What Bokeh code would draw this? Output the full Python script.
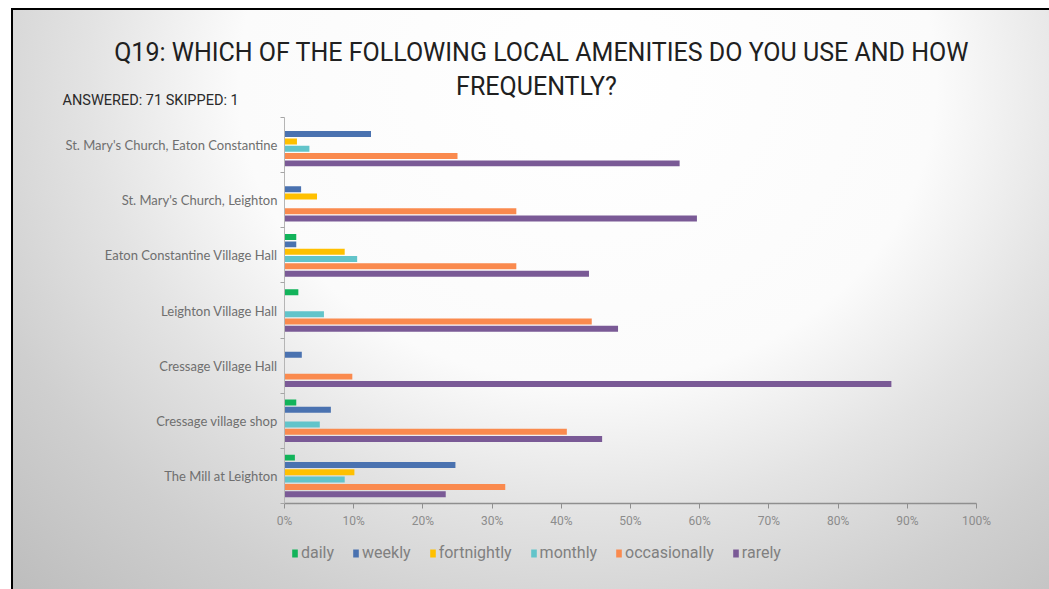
from bokeh.plotting import figure
from bokeh.layouts import column
from bokeh.models import (Range1d, FixedTicker, NumeralTickFormatter, Label,
                          Legend, LegendItem, ColumnDataSource)
from bokeh.transform import dodge
from bokeh.embed import file_html
from bokeh.resources import INLINE

# ---------------- data (percent of respondents) ----------------
categories = [
    "St. Mary's Church, Eaton Constantine",
    "St. Mary's Church, Leighton",
    "Eaton Constantine Village Hall",
    "Leighton Village Hall",
    "Cressage Village Hall",
    "Cressage village shop",
    "The Mill at Leighton",
]
series = ["daily", "weekly", "fortnightly", "monthly", "occasionally", "rarely"]
daily = [0.0, 0.0, 1.7, 2.0, 0.0, 1.7, 1.5]
weekly = [12.5, 2.4, 1.7, 0.0, 2.5, 6.7, 24.7]
fortnightly = [1.8, 4.7, 8.7, 0.0, 0.0, 0.0, 10.1]
monthly = [3.6, 0.0, 10.5, 5.7, 0.0, 5.1, 8.7]
occasionally = [25.0, 33.5, 33.5, 44.4, 9.8, 40.8, 31.9]
rarely = [57.1, 59.6, 44.0, 48.2, 87.7, 45.9, 23.3]
x_ticks = [0.0, 0.1, 0.2, 0.3, 0.4, 0.5, 0.6, 0.7, 0.8, 0.9, 1.0]

colors = ["#12b35a", "#4a72b0", "#ffc000", "#62c4ca", "#fa8a4e", "#7a5a96"]
title_1 = "Q19: WHICH OF THE FOLLOWING LOCAL AMENITIES DO YOU USE AND HOW"
title_2 = "FREQUENTLY?"
subtitle = "ANSWERED: 71 SKIPPED: 1"

W = 1049
TOP_H, MAIN_H, BOT_H = 117, 416, 56


def bare(fig):
    fig.background_fill_color = None
    fig.border_fill_color = None
    fig.outline_line_color = None
    fig.frame_align = False
    return fig


# ---------------- title strip ----------------
top = bare(figure(width=W, height=TOP_H, x_range=Range1d(0, W), y_range=Range1d(TOP_H, 0),
                  x_axis_type=None, y_axis_type=None, title=None, min_border=0,
                  output_backend="svg", toolbar_location=None))
top.add_layout(Label(x=541, y=52, text=title_1, text_align="center", text_baseline="middle",
                     text_font="Roboto", text_font_size="25px", text_color="#202020"))
top.add_layout(Label(x=536, y=86, text=title_2, text_align="center", text_baseline="middle",
                     text_font="Roboto", text_font_size="25px", text_color="#202020"))
top.add_layout(Label(x=62, y=100, text=subtitle, text_align="left", text_baseline="middle",
                     text_font="Roboto", text_font_size="14.5px", text_color="#2a2a2a"))

# ---------------- main bar chart ----------------
n = len(categories)
ypos = [n - 0.5 - i for i in range(n)]
values = [daily, weekly, fortnightly, monthly, occasionally, rarely]
data = dict(y=ypos)
for s, v in zip(series, values):
    data[s] = [x / 100.0 for x in v]
src = ColumnDataSource(data)

p = bare(figure(width=W, height=MAIN_H, x_range=Range1d(0, 1), y_range=Range1d(0, n),
                output_backend="svg", toolbar_location=None, title=None,
                min_border_left=284, min_border_right=73,
                min_border_top=0, min_border_bottom=30))

slot = 0.1327
bar_h = 0.108
for j, s in enumerate(series):
    p.hbar(y=dodge("y", (2.5 - j) * slot), left=0, right=s, height=bar_h,
           source=src, fill_color=colors[j], line_color=None)

p.xgrid.visible = False
p.ygrid.visible = False

xa = p.xaxis[0]
xa.ticker = FixedTicker(ticks=x_ticks)
xa.formatter = NumeralTickFormatter(format="0%")
xa.axis_line_color = "#8f8f8f"
xa.axis_line_width = 1.5
xa.major_tick_line_color = "#8f8f8f"
xa.major_tick_in = 0
xa.major_tick_out = 5
xa.minor_tick_out = 0
xa.minor_tick_in = 0
xa.major_label_standoff = 5
xa.major_label_text_font = "Roboto"
xa.major_label_text_font_size = "12px"
xa.major_label_text_color = "#8c8c8c"

ya = p.yaxis[0]
ya.ticker = FixedTicker(ticks=ypos, minor_ticks=list(range(n + 1)))
ya.major_label_overrides = {y: c for y, c in zip(ypos, categories)}
ya.axis_line_color = "#b5b5b5"
ya.major_tick_in = 0
ya.major_tick_out = 0
ya.minor_tick_in = 0
ya.minor_tick_out = 4
ya.minor_tick_line_color = "#a5a5a5"
ya.major_label_standoff = 3
ya.major_label_text_font = "Lato"
ya.major_label_text_font_size = "13px"
ya.major_label_text_color = "#6f6f6f"

# ---------------- legend strip (same series as zero-size bars) ----------------
bot = bare(figure(width=W, height=BOT_H, x_range=Range1d(0, 1), y_range=Range1d(0, n),
                  x_axis_type=None, y_axis_type=None, title=None, min_border=0,
                  output_backend="svg", toolbar_location=None))
leg_rs = [bot.hbar(y="y", left=s, right=s, height=0, source=src,
                   fill_color=c, line_color=None) for s, c in zip(series, colors)]
legend = Legend(items=[LegendItem(label=s, renderers=[r]) for s, r in zip(series, leg_rs)],
                orientation="horizontal", location=(291, 27),
                padding=0, margin=0, spacing=18, label_standoff=3,
                glyph_width=7, glyph_height=10,
                label_text_font="Roboto", label_text_font_size="16px",
                label_text_color="#808080",
                background_fill_color=None, border_line_color=None)
bot.add_layout(legend)

page = column(top, p, bot, spacing=0)
page.styles = {
    "background": (
        "linear-gradient(#ffffff,#ffffff) 0px 0px / 100% 8px no-repeat, "
        "linear-gradient(#ffffff,#ffffff) 0px 0px / 11px 100% no-repeat, "
        "linear-gradient(#000000,#000000) 11px 8px / 2px 100% no-repeat, "
        "linear-gradient(#000000,#000000) 11px 8px / 100% 2px no-repeat, "
        "radial-gradient(ellipse farthest-corner at 56% 14%, #ffffff 0%, #fbfbfb 42%, "
        "#e3e3e3 60%, #cfcfcf 78%, #bcbcbc 100%)"
    )
}

open("out.html", "w").write(file_html(page, INLINE))
